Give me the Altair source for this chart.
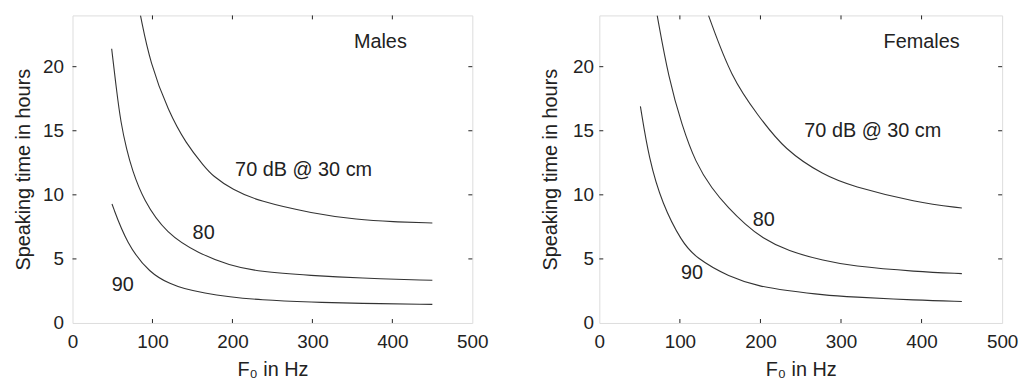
import altair as alt
import pandas as pd

FONT = "Liberation Sans"

# ---- data ----
# Males
m70_x = [85, 97, 120, 142, 165, 175, 200, 233, 300, 357, 400, 450]
m70_y = [24, 20.3, 16.5, 14.0, 12.2, 11.5, 10.4, 9.5, 8.55, 8.05, 7.9, 7.8]
m80_x = [49, 55, 60.5, 67.8, 74.4, 88.5, 117.5, 158.8, 196, 233, 300, 357, 450]
m80_y = [21.4, 18.2, 15.6, 13.5, 12.0, 9.6, 6.95, 5.4, 4.5, 4.0, 3.7, 3.5, 3.33]
m90_x = [49.4, 67.8, 96.8, 124, 138, 165, 196, 233, 300, 357, 450]
m90_y = [9.28, 6.18, 3.85, 3.0, 2.7, 2.32, 2.04, 1.8, 1.62, 1.53, 1.45]
# Females
f70_x = [135.5, 164, 197, 230, 279.6, 312, 394, 450]
f70_y = [24, 19.1, 16.2, 13.5, 11.5, 10.7, 9.4, 8.97]
f80_x = [71.8, 86, 102.6, 119.5, 139.5, 160.5, 181, 201.6, 234, 279.6, 312, 394, 450]
f80_y = [24, 19.1, 15.4, 12.5, 10.5, 8.95, 7.7, 6.65, 5.6, 4.85, 4.45, 4.0, 3.85]
f90_x = [51, 61.6, 78, 102.6, 119.5, 160.5, 201.6, 230, 279.6, 312, 394, 450]
f90_y = [16.9, 12.8, 9.3, 6.3, 5.1, 3.59, 2.81, 2.56, 2.17, 2.04, 1.78, 1.68]

# annotations (text, x, y)
male_labels = ["Males", "70 dB @ 30 cm", "80", "90"]
male_lx = [385, 289, 164, 63]
male_ly = [21.9, 11.9, 7.0, 2.95]
female_labels = ["Females", "70 dB @ 30 cm", "80", "90"]
female_lx = [400, 339.5, 204, 115]
female_ly = [21.9, 15.0, 8.0, 3.9]

x_ticks = [0, 100, 200, 300, 400, 500]
y_ticks = [0, 5, 10, 15, 20]
x_inner_ticks = [100, 200, 300, 400]
y_inner_ticks = [5, 10, 15, 20]

X_DOMAIN = [0, 500]
Y_DOMAIN = [0, 24]
H = 310


def curves_df(pairs):
    rows = []
    for name, xs, ys in pairs:
        for i, (a, b) in enumerate(zip(xs, ys)):
            rows.append({"level": name, "f0": a, "t": b, "order": i})
    return pd.DataFrame(rows)


def panel(curves, labels, lx, ly, width, label_pad, title_pad):
    cdf = curves_df(curves)
    ldf = pd.DataFrame({"label": labels, "f0": lx, "t": ly})
    xt = pd.DataFrame({"f0": x_inner_ticks})
    yt = pd.DataFrame({"t": y_inner_ticks})

    xscale = alt.Scale(domain=X_DOMAIN, nice=False, zero=False)
    yscale = alt.Scale(domain=Y_DOMAIN, nice=False, zero=False)

    xaxis = alt.Axis(values=x_ticks, ticks=False, domain=False, grid=False,
                     labelFontSize=19, labelFont=FONT, labelColor="#222",
                     labelPadding=10, title="F\u2080 in Hz", titleFont=FONT,
                     titleFontSize=20, titleFontWeight="normal", titleColor="#222",
                     titlePadding=8, labelFlush=False)
    yaxis = alt.Axis(values=y_ticks, ticks=False, domain=False, grid=False,
                     labelFontSize=19, labelFont=FONT, labelColor="#222",
                     labelPadding=label_pad, title="Speaking time in hours",
                     titleFont=FONT, titleFontSize=20, titleFontWeight="normal",
                     titleColor="#222", titlePadding=title_pad, labelFlush=False)

    lines = alt.Chart(cdf).mark_line(color="#333", strokeWidth=1.1, clip=True,
                                     interpolate="basis").encode(
        x=alt.X("f0:Q", scale=xscale, axis=xaxis),
        y=alt.Y("t:Q", scale=yscale, axis=yaxis),
        detail="level:N",
        order="order:Q",
    )
    texts = alt.Chart(ldf).mark_text(font=FONT, fontSize=20, color="#222",
                                     align="center", baseline="middle").encode(
        x=alt.X("f0:Q", scale=xscale),
        y=alt.Y("t:Q", scale=yscale),
        text="label:N",
    )
    tb = alt.Chart(xt).mark_rule(color="#222", strokeWidth=1).encode(
        x=alt.X("f0:Q", scale=xscale), y=alt.value(H), y2=alt.value(H - 4))
    tt = alt.Chart(xt).mark_rule(color="#222", strokeWidth=1).encode(
        x=alt.X("f0:Q", scale=xscale), y=alt.value(0), y2=alt.value(4))
    tl = alt.Chart(yt).mark_rule(color="#222", strokeWidth=1).encode(
        y=alt.Y("t:Q", scale=yscale), x=alt.value(0), x2=alt.value(4))
    tr = alt.Chart(yt).mark_rule(color="#222", strokeWidth=1).encode(
        y=alt.Y("t:Q", scale=yscale), x=alt.value(width), x2=alt.value(width - 4))

    return alt.layer(lines, texts, tb, tt, tl, tr).properties(width=width, height=H)


left = panel([("70", m70_x, m70_y), ("80", m80_x, m80_y), ("90", m90_x, m90_y)],
             male_labels, male_lx, male_ly, 403, 9, 9)
right = panel([("70", f70_x, f70_y), ("80", f80_x, f80_y), ("90", f90_x, f90_y)],
              female_labels, female_lx, female_ly, 406, 6, 12)

chart = alt.hconcat(left, right, spacing=128, bounds="flush").properties(
    padding={"left": 5, "top": 5, "right": 0, "bottom": 0}
).configure_view(stroke="#222", strokeWidth=1.3).configure(background="white")

chart.save("out.html", embed_options={"renderer": "svg", "actions": False})
